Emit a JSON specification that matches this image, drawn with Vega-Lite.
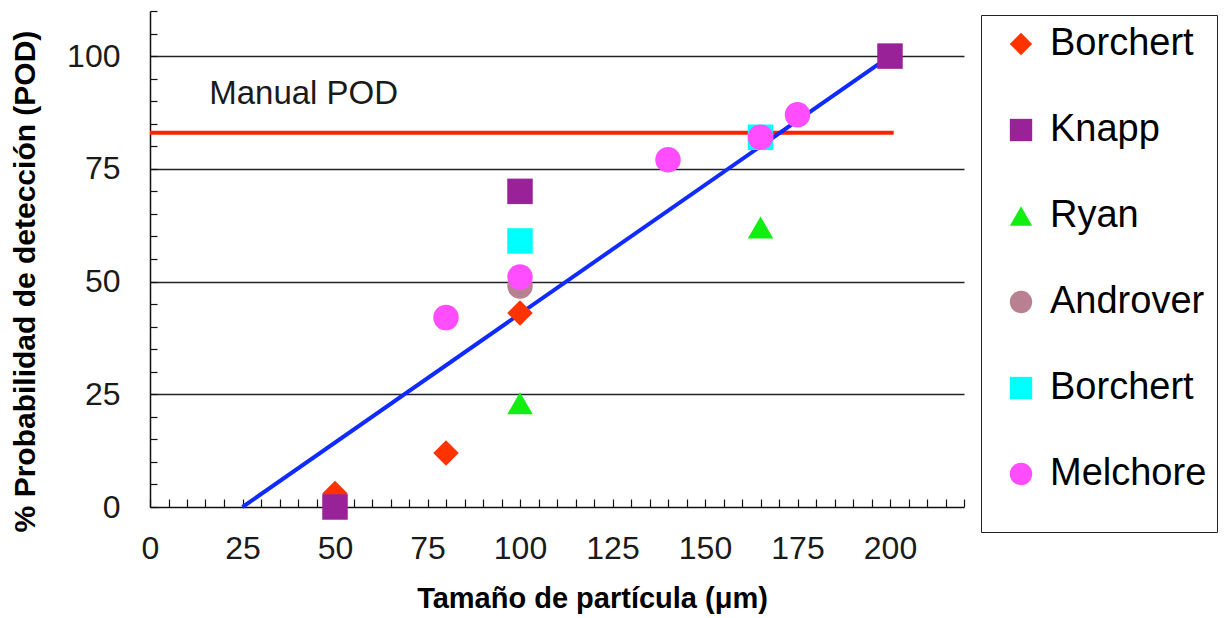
{
  "$schema": "https://vega.github.io/schema/vega-lite/v6.json",
  "width": 814,
  "height": 496,
  "autosize": {"type": "none"},
  "padding": {"left": 150, "top": 11, "right": 264, "bottom": 111},
  "config": {"font": "Liberation Sans", "view": {"stroke": null}},
  "datasets": {
    "points": [
      {"serie": "Borchert", "size_um": 50, "pod": 3},
      {"serie": "Borchert", "size_um": 80, "pod": 12},
      {"serie": "Borchert", "size_um": 100, "pod": 43},
      {"serie": "Knapp", "size_um": 50, "pod": 0},
      {"serie": "Knapp", "size_um": 100, "pod": 70},
      {"serie": "Knapp", "size_um": 200, "pod": 100},
      {"serie": "Ryan", "size_um": 100, "pod": 23},
      {"serie": "Ryan", "size_um": 165, "pod": 62},
      {"serie": "Androver", "size_um": 100, "pod": 49},
      {"serie": "Borchert 2", "size_um": 100, "pod": 59},
      {"serie": "Borchert 2", "size_um": 165, "pod": 82},
      {"serie": "Melchore", "size_um": 80, "pod": 42},
      {"serie": "Melchore", "size_um": 100, "pod": 51},
      {"serie": "Melchore", "size_um": 140, "pod": 77},
      {"serie": "Melchore", "size_um": 165, "pod": 82},
      {"serie": "Melchore", "size_um": 175, "pod": 87}
    ],
    "manual": [
      {"size_um": 0, "pod": 83},
      {"size_um": 201, "pod": 83}
    ],
    "fit": [
      {"size_um": 25, "pod": 0},
      {"size_um": 200, "pod": 100}
    ],
    "note": [
      {"size_um": 16, "pod": 91.5, "label": "Manual POD"}
    ]
  },
  "encoding": {
    "x": {
      "field": "size_um", "type": "quantitative",
      "scale": {"domain": [0, 220], "nice": false, "zero": false},
      "axis": {
        "values": [0,5,10,15,20,25,30,35,40,45,50,55,60,65,70,75,80,85,90,95,100,105,110,115,120,125,130,135,140,145,150,155,160,165,170,175,180,185,190,195,200,205,210,215,220],
        "tickCount": 100,
        "labelExpr": "datum.value % 25 === 0 && datum.value <= 200 ? datum.label : ''",
        "tickSize": -8, "tickColor": "#111", "tickWidth": 1.2,
        "domainColor": "#111", "domainWidth": 1.5,
        "labelFontSize": 32, "labelColor": "#1a1a1a", "labelPadding": 34,
        "labelFlush": false, "labelOverlap": false, "labelBound": false,
        "grid": false,
        "title": "Tamaño de partícula (μm)",
        "titleFontSize": 29, "titleFontWeight": "bold", "titleColor": "#000",
        "titleX": 442, "titlePadding": 20
      }
    },
    "y": {
      "field": "pod", "type": "quantitative",
      "scale": {"domain": [0, 110], "nice": false, "zero": false},
      "axis": {
        "values": [0,5,10,15,20,25,30,35,40,45,50,55,60,65,70,75,80,85,90,95,100,105,110],
        "tickCount": 100,
        "labelExpr": "datum.value % 25 === 0 ? datum.label : ''",
        "tickSize": -7, "tickColor": "#111", "tickWidth": 1.2,
        "domainColor": "#111", "domainWidth": 1.5,
        "labelFontSize": 32, "labelColor": "#1a1a1a", "labelPadding": 37,
        "labelOverlap": false, "labelBound": false, "labelFlush": false,
        "grid": true, "gridColor": "#222", "gridWidth": 1.3,
        "gridOpacity": {"condition": {"test": "datum.value % 25 === 0 && datum.value > 0 && datum.value < 110", "value": 1}, "value": 0},
        "title": "% Probabilidad de detección (POD)",
        "titleFontSize": 30, "titleFontWeight": "bold", "titleColor": "#000",
        "titleY": 270, "titlePadding": 26
      }
    }
  },
  "layer": [
    {
      "data": {"name": "manual"},
      "mark": {"type": "line", "color": "#ff2200", "strokeWidth": 4}
    },
    {
      "data": {"name": "fit"},
      "mark": {"type": "line", "color": "#0f2bff", "strokeWidth": 4}
    },
    {
      "data": {"name": "note"},
      "mark": {"type": "text", "align": "left", "baseline": "middle", "fontSize": 33, "color": "#1a1a1a"},
      "encoding": {
        "text": {"field": "label"}
      }
    },
    {
      "data": {"name": "points"},
      "mark": {"type": "point", "filled": true, "opacity": 1, "size": 650, "strokeWidth": 0},
      "encoding": {
        "color": {
          "field": "serie", "type": "nominal",
          "scale": {
            "domain": ["Borchert", "Knapp", "Ryan", "Androver", "Borchert 2", "Melchore"],
            "range": ["#ff3300", "#9a2299", "#11ee11", "#b88090", "#00ffff", "#ff4dff"]
          },
          "legend": {
            "orient": "none", "legendX": 831, "legendY": 4,
            "title": " ", "titleOrient": "bottom", "titleFontSize": 22, "titlePadding": 8,
            "labelFontSize": 38, "labelColor": "#000", "labelLimit": 400,
            "labelExpr": "replace(datum.label, ' 2', '')",
            "symbolSize": 500, "symbolOpacity": 1, "symbolStrokeWidth": 0,
            "symbolOffset": 11, "labelOffset": 10,
            "strokeColor": "#222", "padding": 10, "rowPadding": 48
          }
        },
        "shape": {
          "field": "serie", "type": "nominal",
          "scale": {
            "domain": ["Borchert", "Knapp", "Ryan", "Androver", "Borchert 2", "Melchore"],
            "range": ["diamond", "square", "triangle-up", "circle", "square", "circle"]
          },
          "legend": {
            "orient": "none", "legendX": 831, "legendY": 4,
            "title": " ", "titleOrient": "bottom", "titleFontSize": 22, "titlePadding": 8,
            "labelFontSize": 38, "labelColor": "#000", "labelLimit": 400,
            "labelExpr": "replace(datum.label, ' 2', '')",
            "symbolSize": 500, "symbolOpacity": 1, "symbolStrokeWidth": 0,
            "symbolOffset": 11, "labelOffset": 10,
            "strokeColor": "#222", "padding": 10, "rowPadding": 48
          }
        }
      }
    }
  ]
}
